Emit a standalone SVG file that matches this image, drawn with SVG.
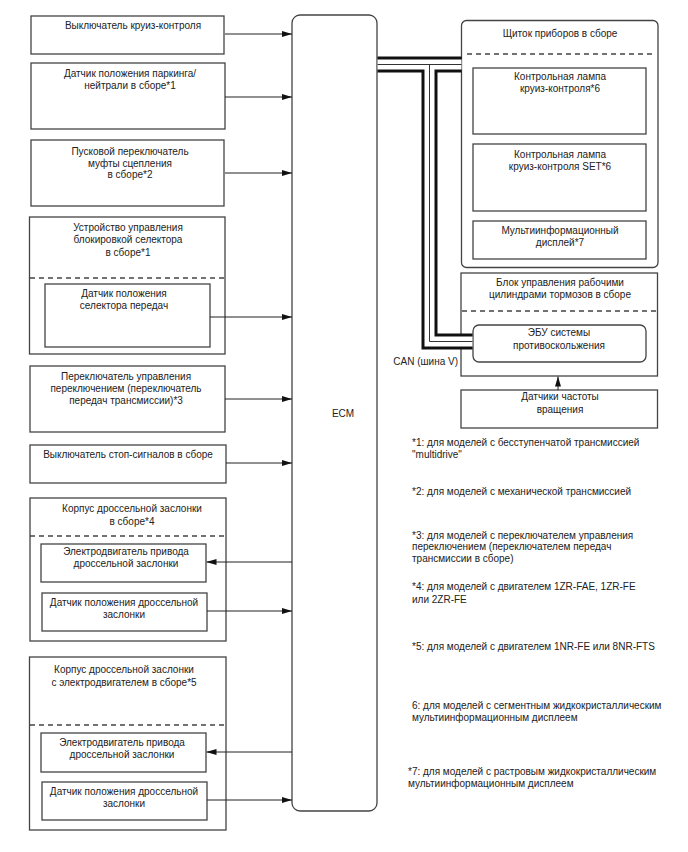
<svg xmlns="http://www.w3.org/2000/svg" width="688" height="852" viewBox="0 0 688 852">
<defs>
<style>
.box{fill:#fff;stroke:#444;stroke-width:1.3}
.dash{fill:none;stroke:#444;stroke-width:1.3;stroke-dasharray:5,4}
.t{font-family:"Liberation Sans",Arial,sans-serif;font-size:10px;fill:#222;text-anchor:middle}
.n{font-family:"Liberation Sans",Arial,sans-serif;font-size:10px;fill:#222}
.w{fill:none;stroke:#222;stroke-width:1;marker-end:url(#ah)}
.busb{fill:none;stroke:#111;stroke-width:16;stroke-linejoin:miter}
.busw{fill:none;stroke:#fff;stroke-width:10;stroke-linejoin:miter}
.busc{fill:none;stroke:#333;stroke-width:1;stroke-linejoin:miter}
</style>
<marker id="ah" viewBox="0 0 10 6" refX="10" refY="3" markerWidth="10" markerHeight="6" markerUnits="userSpaceOnUse" orient="auto">
<path d="M0,0 L10,3 L0,6 z" fill="#111"/>
</marker>
</defs>
<rect width="688" height="852" fill="#fff"/>

<g id="ecm">
<rect class="box" x="292" y="15" width="85" height="796" rx="8"/>
<text class="t" x="343" y="417">ECM</text>
</g>

<g id="cruise-switch">
<rect class="box" x="31" y="16" width="193" height="38"/>
<text class="t" x="133" y="28.5">Выключатель круиз-контроля</text>
</g>

<g id="park-neutral">
<rect class="box" x="31" y="63" width="194" height="66"/>
<text class="t" x="130" y="76.5">Датчик положения паркинга/</text>
<text class="t" x="130" y="89">нейтрали в сборе*1</text>
</g>

<g id="clutch-switch">
<rect class="box" x="31" y="140" width="193" height="66"/>
<text class="t" x="130" y="154.5">Пусковой переключатель</text>
<text class="t" x="130" y="166.5">муфты сцепления</text>
<text class="t" x="130" y="178">в сборе*2</text>
</g>

<g id="shift-lock">
<rect class="box" x="29.5" y="217" width="195.5" height="137"/>
<text class="t" x="128" y="230.5">Устройство управления</text>
<text class="t" x="128" y="242.5">блокировкой селектора</text>
<text class="t" x="128" y="255.5">в сборе*1</text>
<line class="dash" x1="30" y1="278" x2="225" y2="278"/>
<g id="shift-sensor">
<rect class="box" x="45" y="284" width="165" height="63"/>
<text class="t" x="124" y="296.5">Датчик положения</text>
<text class="t" x="124" y="308.5">селектора передач</text>
</g>
</g>

<g id="shift-switch">
<rect class="box" x="30" y="366" width="195" height="66"/>
<text class="t" x="126" y="379.5">Переключатель управления</text>
<text class="t" x="126" y="391.5">переключением (переключатель</text>
<text class="t" x="126" y="403.5">передач трансмиссии)*3</text>
</g>

<g id="stop-switch">
<rect class="box" x="30" y="445" width="196" height="38"/>
<text class="t" x="128" y="457.5">Выключатель стоп-сигналов в сборе</text>
</g>

<g id="throttle-4">
<rect class="box" x="30" y="498" width="196" height="143"/>
<text class="t" x="132" y="511.5">Корпус дроссельной заслонки</text>
<text class="t" x="132" y="524.5">в сборе*4</text>
<line class="dash" x1="30" y1="536" x2="226" y2="536"/>
<g id="throttle-4-motor">
<rect class="box" x="41" y="544" width="165" height="38"/>
<text class="t" x="126" y="554.5">Электродвигатель привода</text>
<text class="t" x="126" y="566.5">дроссельной заслонки</text>
</g>
<g id="throttle-4-sensor">
<rect class="box" x="42" y="593" width="165" height="38"/>
<text class="t" x="124" y="605.5">Датчик положения дроссельной</text>
<text class="t" x="124" y="617.5">заслонки</text>
</g>
</g>

<g id="throttle-5">
<rect class="box" x="29.5" y="657" width="196.5" height="173"/>
<text class="t" x="124" y="672.5">Корпус дроссельной заслонки</text>
<text class="t" x="124" y="685.5">с электродвигателем в сборе*5</text>
<line class="dash" x1="30" y1="725" x2="226" y2="725"/>
<g id="throttle-5-motor">
<rect class="box" x="41" y="733" width="165" height="39"/>
<text class="t" x="122" y="745.5">Электродвигатель привода</text>
<text class="t" x="122" y="757.5">дроссельной заслонки</text>
</g>
<g id="throttle-5-sensor">
<rect class="box" x="42" y="782" width="165" height="38"/>
<text class="t" x="124" y="794.5">Датчик положения дроссельной</text>
<text class="t" x="124" y="806.5">заслонки</text>
</g>
</g>

<g id="combination-meter">
<rect class="box" x="461.5" y="20.5" width="196.5" height="247" rx="5"/>
<text class="t" x="560" y="36.5">Щиток приборов в сборе</text>
<line class="dash" x1="467" y1="54" x2="655" y2="54"/>
<g id="cruise-lamp">
<rect class="box" x="473" y="68" width="173" height="66"/>
<text class="t" x="560" y="79.5">Контрольная лампа</text>
<text class="t" x="560" y="92">круиз-контроля*6</text>
</g>
<g id="set-lamp">
<rect class="box" x="473" y="144" width="173" height="67"/>
<text class="t" x="560" y="157.5">Контрольная лампа</text>
<text class="t" x="560" y="169.5">круиз-контроля SET*6</text>
</g>
<g id="multi-display">
<rect class="box" x="473" y="221" width="173" height="38"/>
<text class="t" x="560" y="233.5">Мультиинформационный</text>
<text class="t" x="560" y="245.5">дисплей*7</text>
</g>
</g>

<g id="brake-actuator">
<rect class="box" x="461" y="273" width="196.5" height="103"/>
<text class="t" x="560" y="286">Блок управления рабочими</text>
<text class="t" x="560" y="297.5">цилиндрами тормозов в сборе</text>
<line class="dash" x1="462" y1="311" x2="657" y2="311"/>
<g id="skid-ecu">
<rect class="box" x="473" y="325" width="173" height="37" rx="6"/>
<text class="t" x="559" y="336">ЭБУ системы</text>
<text class="t" x="559" y="348.5">противоскольжения</text>
</g>
</g>

<g id="speed-sensors">
<rect class="box" x="461" y="390" width="196.5" height="38"/>
<text class="t" x="560" y="400">Датчики частоты</text>
<text class="t" x="560" y="412.5">вращения</text>
</g>

<g id="connectors">
<line class="w" x1="225" y1="34" x2="292" y2="34"/>
<line class="w" x1="225" y1="97" x2="292" y2="97"/>
<line class="w" x1="225" y1="173" x2="292" y2="173"/>
<line class="w" x1="210" y1="317" x2="292" y2="317"/>
<line class="w" x1="225" y1="399" x2="292" y2="399"/>
<line class="w" x1="226" y1="463" x2="292" y2="463"/>
<line class="w" x1="292" y1="562" x2="206.5" y2="562"/>
<line class="w" x1="207" y1="611" x2="292" y2="611"/>
<line class="w" x1="292" y1="752" x2="206.5" y2="752"/>
<line class="w" x1="207" y1="800" x2="292" y2="800"/>
<line class="w" x1="558" y1="390" x2="558" y2="376.5"/>
<g id="can-bus">
<path class="busb" d="M377.5,64.5 H461.5"/>
<path class="busb" d="M429.5,64.5 V341.5 H472.5"/>
<path class="busw" d="M377.5,64.5 H461.5"/>
<path class="busw" d="M429.5,64.5 V341.5 H472.5"/>
<path class="busc" d="M377.5,64.5 H461.5"/>
<path class="busc" d="M429.5,64.5 V341.5 H472.5"/>
</g>
<text class="n" x="458" y="365" text-anchor="end">CAN (шина V)</text>
</g>

<g id="notes">
<text class="n" x="412" y="446">*1: для моделей с бесступенчатой трансмиссией</text>
<text class="n" x="412" y="457.5">"multidrive"</text>
<text class="n" x="412" y="495">*2: для моделей с механической трансмиссией</text>
<text class="n" x="412" y="538.5">*3: для моделей с переключателем управления</text>
<text class="n" x="412" y="550">переключением (переключателем передач</text>
<text class="n" x="412" y="561.5">трансмиссии в сборе)</text>
<text class="n" x="412" y="590">*4: для моделей с двигателем 1ZR-FAE, 1ZR-FE</text>
<text class="n" x="412" y="602.5">или 2ZR-FE</text>
<text class="n" x="412" y="650">*5: для моделей с двигателем 1NR-FE или 8NR-FTS</text>
<text class="n" x="412" y="709">6: для моделей с сегментным жидкокристаллическим</text>
<text class="n" x="412" y="720.5">мультиинформационным дисплеем</text>
<text class="n" x="408" y="775">*7: для моделей с растровым жидкокристаллическим</text>
<text class="n" x="408" y="786.5">мультиинформационным дисплеем</text>
</g>
</svg>
